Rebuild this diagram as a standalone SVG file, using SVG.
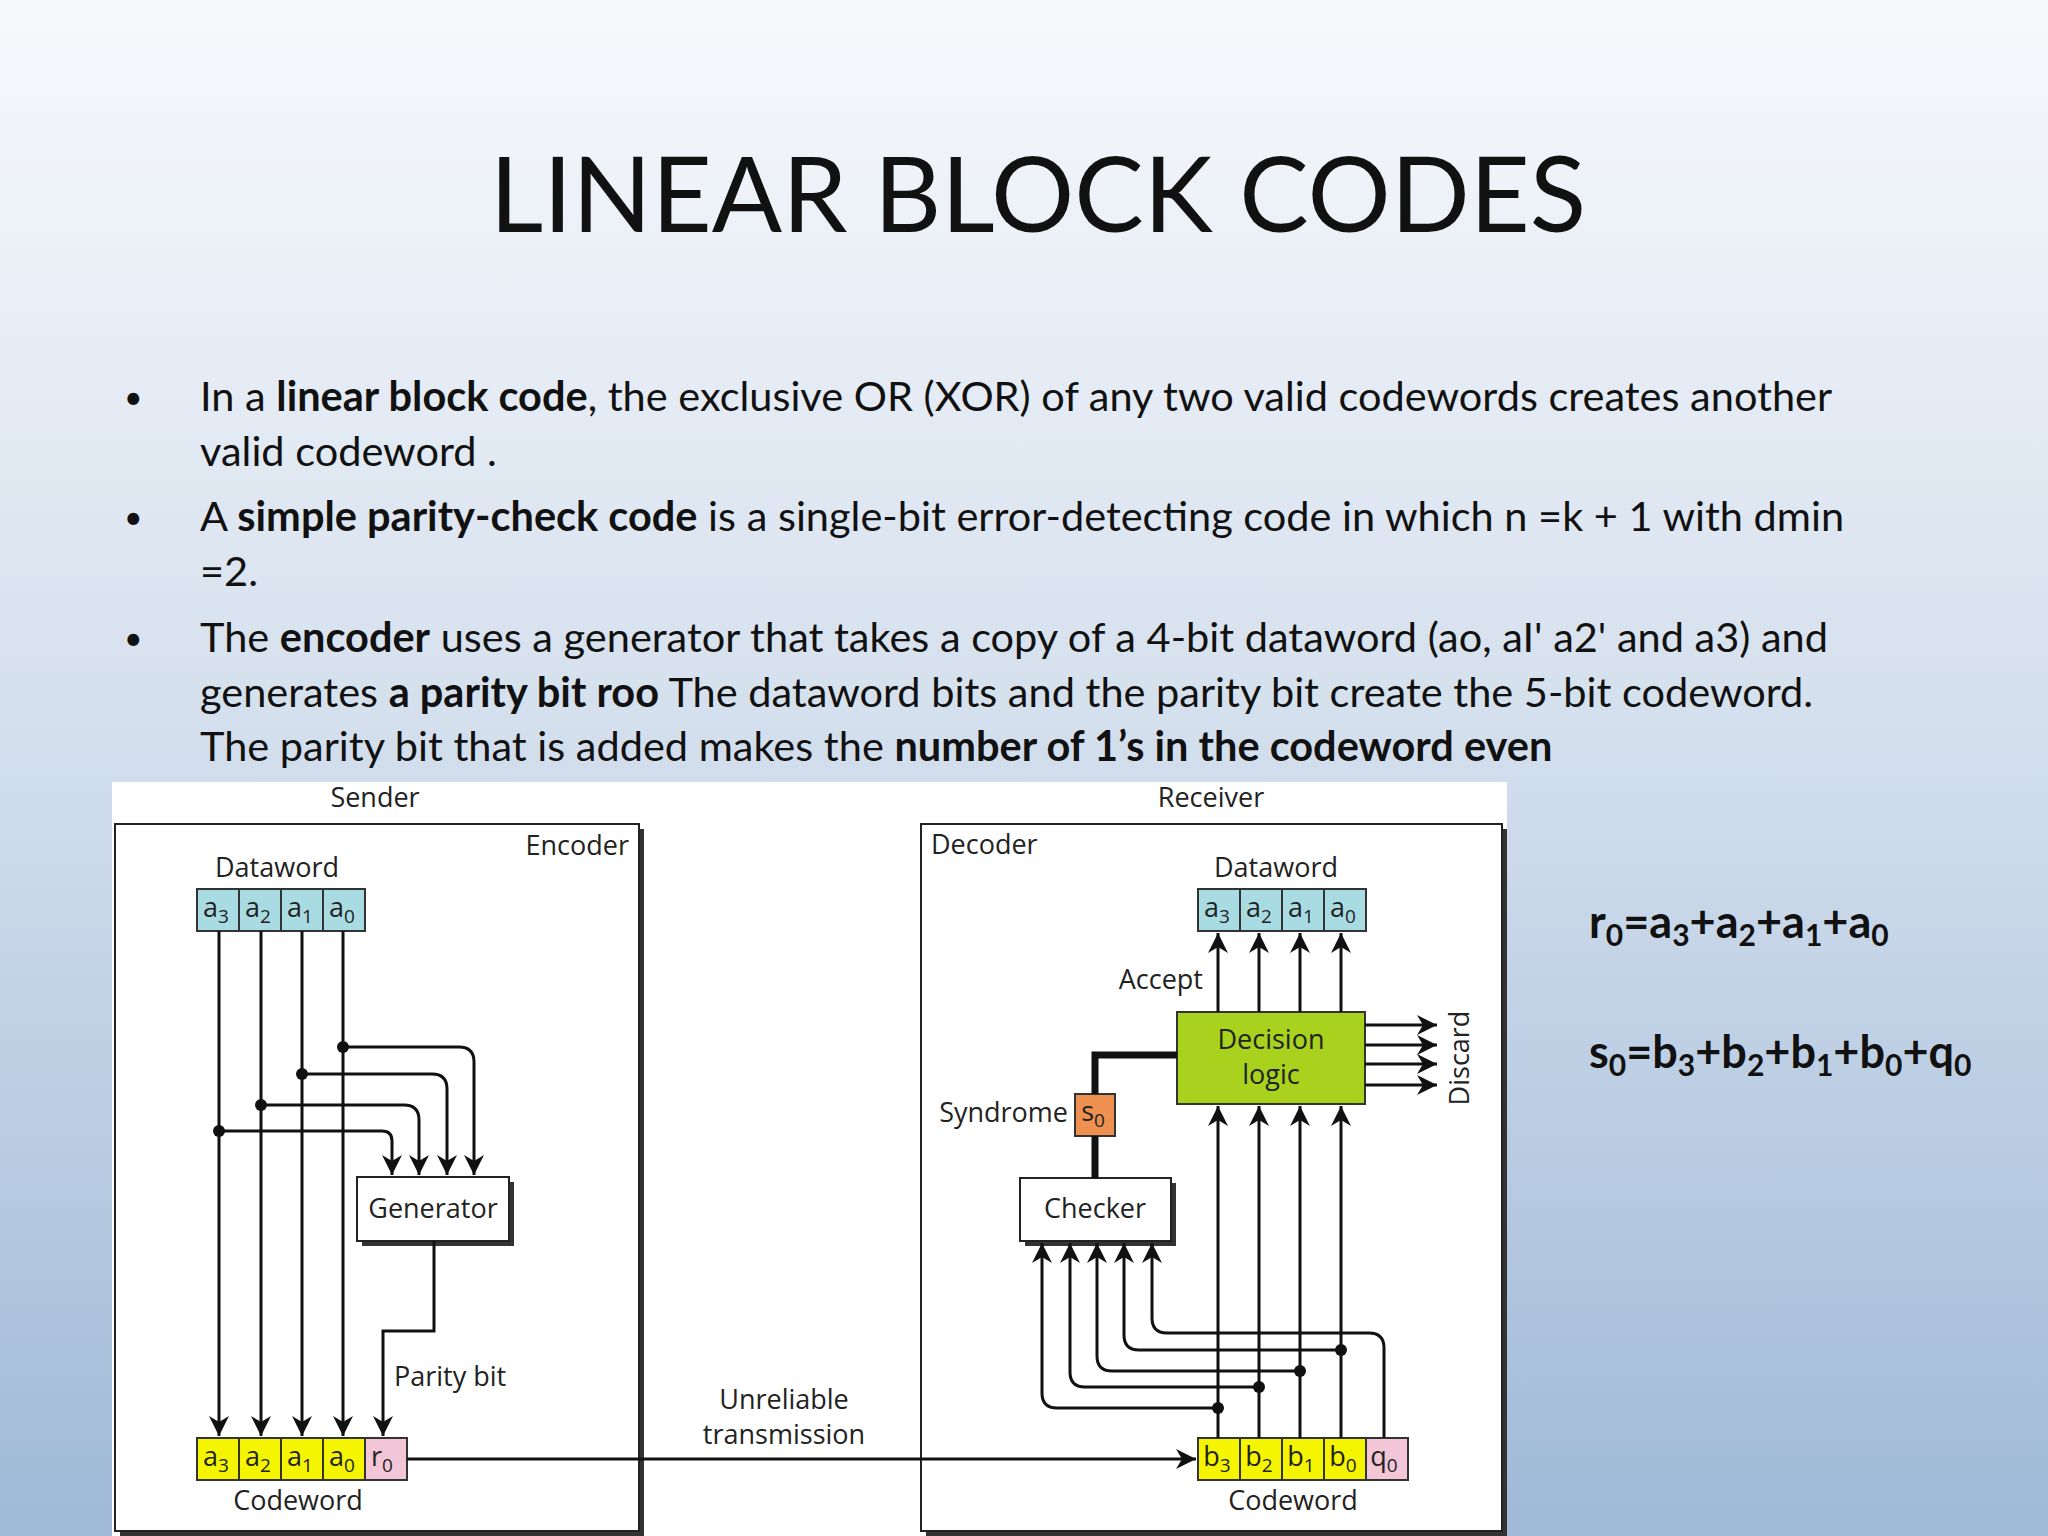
<svg xmlns="http://www.w3.org/2000/svg" width="2048" height="1536" viewBox="0 0 2048 1536">
<defs>
<linearGradient id="bg" x1="0" y1="0" x2="0" y2="1"><stop offset="0" stop-color="#f7f9fc"/><stop offset="0.45" stop-color="#d6e1ee"/><stop offset="1" stop-color="#9fb9d7"/></linearGradient>
<marker id="ar" viewBox="0 0 10 10" refX="10" refY="5" markerWidth="20" markerHeight="20" markerUnits="userSpaceOnUse" orient="auto"><path d="M0,0 L10,5 L0,10 L3,5 z" fill="#111"/></marker>
</defs>
<style>
.b{font-family:Lato,"Open Sans",sans-serif;font-size:41.5px;fill:#111}
.d{font-family:"Open Sans","DejaVu Sans",sans-serif;font-size:27px;fill:#222}
.c{font-family:"Open Sans","DejaVu Sans",sans-serif;font-size:27px;fill:#222;text-anchor:middle}
.w{fill:none;stroke:#111;stroke-width:3}
.box{fill:#fff;stroke:#222;stroke-width:2}
.sh{fill:#333}
.blu{fill:#a9dbe3;stroke:#333;stroke-width:2}
.yel{fill:#f5f500;stroke:#333;stroke-width:2}
.pnk{fill:#f2c6d6;stroke:#333;stroke-width:2}
.dot{fill:#111}
.f{font-family:Lato,"Open Sans",sans-serif;font-size:45px;font-weight:bold;fill:#111}
</style>
<rect width="2048" height="1536" fill="url(#bg)"/>
<text x="1038" y="232" font-family="Lato,'Open Sans',sans-serif" font-size="104" fill="#111" text-anchor="middle">LINEAR BLOCK CODES</text>
<g class="b">
<text x="124" y="409" font-size="32">•</text><text x="124" y="529" font-size="32">•</text><text x="124" y="650" font-size="32">•</text>
<text x="200" y="411">In a <tspan font-weight="bold">linear block code</tspan>, the exclusive OR (XOR) of any two valid codewords creates another</text>
<text x="200" y="466">valid codeword .</text>
<text x="200" y="531">A <tspan font-weight="bold">simple parity-check code</tspan> is a single-bit error-detecting code in which n =k + 1 with dmin</text>
<text x="200" y="586">=2.</text>
<text x="200" y="652">The <tspan font-weight="bold">encoder</tspan> uses a generator that takes a copy of a 4-bit dataword (ao, aI' a2' and a3) and</text>
<text x="200" y="707">generates <tspan font-weight="bold">a parity bit roo</tspan> The dataword bits and the parity bit create the 5-bit codeword.</text>
<text x="200" y="761">The parity bit that is added makes the <tspan font-weight="bold">number of 1’s in the codeword even</tspan></text>
</g>
<rect x="112" y="782" width="1395" height="754" fill="#fff"/>
<text class="c" x="375" y="807">Sender</text>
<text class="c" x="1211" y="807">Receiver</text>
<g id="encoder">
<rect class="sh" x="120" y="829" width="524" height="707"/>
<rect class="box" x="115" y="824" width="524" height="707"/>
<text class="d" x="629" y="855" text-anchor="end">Encoder</text>
</g>
<g id="decoder">
<rect class="sh" x="926" y="829" width="581" height="707"/>
<rect class="box" x="921" y="824" width="581" height="707"/>
<text class="d" x="931" y="854">Decoder</text>
</g>
<g id="dataword-s">
<text class="c" x="277" y="877">Dataword</text>
<rect class="blu" x="197" y="889" width="42" height="42"/><rect class="blu" x="239" y="889" width="42" height="42"/><rect class="blu" x="281" y="889" width="42" height="42"/><rect class="blu" x="323" y="889" width="42" height="42"/>
<g class="c"><text x="216" y="917">a<tspan font-size="19" dy="6">3</tspan></text><text x="258" y="917">a<tspan font-size="19" dy="6">2</tspan></text><text x="300" y="917">a<tspan font-size="19" dy="6">1</tspan></text><text x="342" y="917">a<tspan font-size="19" dy="6">0</tspan></text></g>
</g>
<g id="generator">
<rect class="sh" x="362" y="1182" width="152" height="64"/>
<rect class="box" x="357" y="1177" width="152" height="64"/>
<text class="c" x="433" y="1218">Generator</text>
</g>
<g id="codeword-s">
<rect class="yel" x="197" y="1438" width="42" height="42"/><rect class="yel" x="239" y="1438" width="42" height="42"/><rect class="yel" x="281" y="1438" width="42" height="42"/><rect class="yel" x="323" y="1438" width="42" height="42"/><rect class="pnk" x="365" y="1438" width="42" height="42"/>
<g class="c"><text x="216" y="1466">a<tspan font-size="19" dy="6">3</tspan></text><text x="258" y="1466">a<tspan font-size="19" dy="6">2</tspan></text><text x="300" y="1466">a<tspan font-size="19" dy="6">1</tspan></text><text x="342" y="1466">a<tspan font-size="19" dy="6">0</tspan></text><text x="382" y="1466">r<tspan font-size="19" dy="6">0</tspan></text></g>
<text class="c" x="298" y="1510">Codeword</text>
</g>
<g id="dataword-r">
<text class="c" x="1276" y="877">Dataword</text>
<rect class="blu" x="1198" y="889" width="42" height="42"/><rect class="blu" x="1240" y="889" width="42" height="42"/><rect class="blu" x="1282" y="889" width="42" height="42"/><rect class="blu" x="1324" y="889" width="42" height="42"/>
<g class="c"><text x="1217" y="917">a<tspan font-size="19" dy="6">3</tspan></text><text x="1259" y="917">a<tspan font-size="19" dy="6">2</tspan></text><text x="1301" y="917">a<tspan font-size="19" dy="6">1</tspan></text><text x="1343" y="917">a<tspan font-size="19" dy="6">0</tspan></text></g>
</g>
<g id="decision">
<rect x="1177" y="1012" width="188" height="92" fill="#a8d21e" stroke="#333" stroke-width="2"/>
<text class="c" x="1271" y="1049">Decision</text><text class="c" x="1271" y="1084">logic</text>
</g>
<g id="syndrome">
<rect x="1075" y="1094" width="40" height="42" fill="#ee9050" stroke="#333" stroke-width="2"/>
<text class="c" x="1093" y="1121">s<tspan font-size="19" dy="6">0</tspan></text>
<text class="d" x="1068" y="1122" text-anchor="end">Syndrome</text>
</g>
<g id="checker">
<rect class="sh" x="1025" y="1183" width="151" height="63"/>
<rect class="box" x="1020" y="1178" width="151" height="63"/>
<text class="c" x="1095" y="1218">Checker</text>
</g>
<g id="codeword-r">
<rect class="yel" x="1198" y="1438" width="42" height="42"/><rect class="yel" x="1240" y="1438" width="42" height="42"/><rect class="yel" x="1282" y="1438" width="42" height="42"/><rect class="yel" x="1324" y="1438" width="42" height="42"/><rect class="pnk" x="1366" y="1438" width="42" height="42"/>
<g class="c"><text x="1217" y="1466">b<tspan font-size="19" dy="6">3</tspan></text><text x="1259" y="1466">b<tspan font-size="19" dy="6">2</tspan></text><text x="1301" y="1466">b<tspan font-size="19" dy="6">1</tspan></text><text x="1343" y="1466">b<tspan font-size="19" dy="6">0</tspan></text><text x="1384" y="1466">q<tspan font-size="19" dy="6">0</tspan></text></g>
<text class="c" x="1293" y="1510">Codeword</text>
</g>
<g id="labels">
<text class="d" x="394" y="1386">Parity bit</text>
<text class="c" x="784" y="1409">Unreliable</text><text class="c" x="784" y="1444">transmission</text>
<text class="d" x="1203" y="989" text-anchor="end">Accept</text>
<text class="d" transform="translate(1469,1058) rotate(-90)" text-anchor="middle">Discard</text>
</g>
<g id="connectors">
<path class="w" marker-end="url(#ar)" d="M219,931 V1436"/>
<path class="w" marker-end="url(#ar)" d="M261,931 V1436"/>
<path class="w" marker-end="url(#ar)" d="M302,931 V1436"/>
<path class="w" marker-end="url(#ar)" d="M343,931 V1436"/>
<path class="w" marker-end="url(#ar)" d="M343,1047 H459 Q474,1047 474,1062 V1175"/>
<path class="w" marker-end="url(#ar)" d="M302,1074 H432 Q447,1074 447,1089 V1175"/>
<path class="w" marker-end="url(#ar)" d="M261,1105 H404 Q419,1105 419,1120 V1175"/>
<path class="w" marker-end="url(#ar)" d="M219,1131 H382 Q392,1131 392,1141 V1175"/>
<circle class="dot" cx="343" cy="1047" r="6"/><circle class="dot" cx="302" cy="1074" r="6"/><circle class="dot" cx="261" cy="1105" r="6"/><circle class="dot" cx="219" cy="1131" r="6"/>
<path class="w" marker-end="url(#ar)" d="M434,1241 V1331 H383 V1436"/>
<path class="w" marker-end="url(#ar)" d="M407,1459 H1196"/>
<path class="w" marker-end="url(#ar)" d="M1218,1438 V1106"/>
<path class="w" marker-end="url(#ar)" d="M1259,1438 V1106"/>
<path class="w" marker-end="url(#ar)" d="M1300,1438 V1106"/>
<path class="w" marker-end="url(#ar)" d="M1341,1438 V1106"/>
<path class="w" marker-end="url(#ar)" d="M1218,1012 V933"/>
<path class="w" marker-end="url(#ar)" d="M1259,1012 V933"/>
<path class="w" marker-end="url(#ar)" d="M1300,1012 V933"/>
<path class="w" marker-end="url(#ar)" d="M1341,1012 V933"/>
<path class="w" marker-end="url(#ar)" d="M1365,1025 H1437"/>
<path class="w" marker-end="url(#ar)" d="M1365,1045 H1437"/>
<path class="w" marker-end="url(#ar)" d="M1365,1064 H1437"/>
<path class="w" marker-end="url(#ar)" d="M1365,1085 H1437"/>
<path fill="none" stroke="#111" stroke-width="7" d="M1177,1055 H1095 V1094 M1095,1136 V1178"/>
<path class="w" marker-end="url(#ar)" d="M1218,1408 H1057 Q1042,1408 1042,1393 V1243"/>
<path class="w" marker-end="url(#ar)" d="M1259,1387 H1085 Q1070,1387 1070,1372 V1243"/>
<path class="w" marker-end="url(#ar)" d="M1300,1371 H1112 Q1097,1371 1097,1356 V1243"/>
<path class="w" marker-end="url(#ar)" d="M1341,1350 H1139 Q1124,1350 1124,1335 V1243"/>
<path class="w" marker-end="url(#ar)" d="M1384,1438 V1348 Q1384,1333 1369,1333 H1167 Q1152,1333 1152,1318 V1243"/>
<circle class="dot" cx="1218" cy="1408" r="6"/><circle class="dot" cx="1259" cy="1387" r="6"/><circle class="dot" cx="1300" cy="1371" r="6"/><circle class="dot" cx="1341" cy="1350" r="6"/>
</g>
<g id="formulas" class="f">
<text x="1589" y="938">r<tspan font-size="30" dy="8">0</tspan><tspan dy="-8">=a</tspan><tspan font-size="30" dy="8">3</tspan><tspan dy="-8">+a</tspan><tspan font-size="30" dy="8">2</tspan><tspan dy="-8">+a</tspan><tspan font-size="30" dy="8">1</tspan><tspan dy="-8">+a</tspan><tspan font-size="30" dy="8">0</tspan></text>
<text x="1589" y="1068">s<tspan font-size="30" dy="8">0</tspan><tspan dy="-8">=b</tspan><tspan font-size="30" dy="8">3</tspan><tspan dy="-8">+b</tspan><tspan font-size="30" dy="8">2</tspan><tspan dy="-8">+b</tspan><tspan font-size="30" dy="8">1</tspan><tspan dy="-8">+b</tspan><tspan font-size="30" dy="8">0</tspan><tspan dy="-8">+q</tspan><tspan font-size="30" dy="8">0</tspan></text>
</g>
</svg>
